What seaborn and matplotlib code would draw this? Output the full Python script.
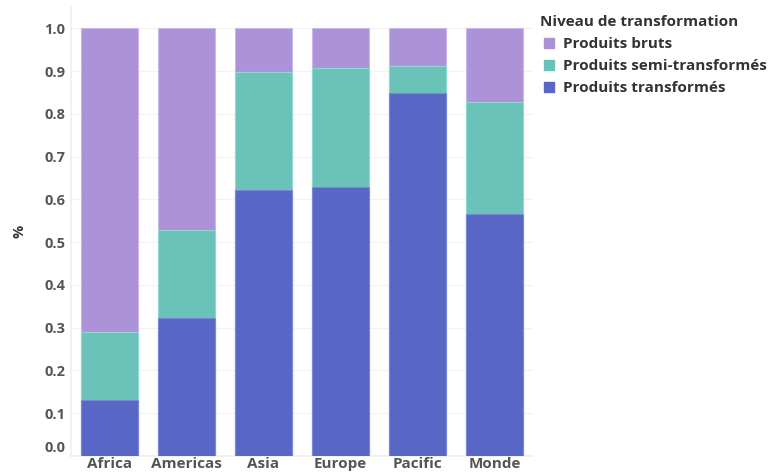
import matplotlib
matplotlib.use("Agg")
import matplotlib.pyplot as plt
import matplotlib.transforms as mtransforms
from matplotlib.lines import Line2D
import numpy as np
import pandas as pd
import seaborn as sns

categories = ["Africa", "Americas", "Asia", "Europe", "Pacific", "Monde"]
transformes = [0.132, 0.322, 0.621, 0.629, 0.849, 0.566]
semi_transformes = [0.157, 0.206, 0.277, 0.278, 0.064, 0.262]
bruts = [0.711, 0.472, 0.102, 0.093, 0.087, 0.172]
series_names = ["Produits bruts", "Produits semi-transformés", "Produits transformés"]
colors = {"Produits bruts": "#AC92D6",
          "Produits semi-transformés": "#6BC2B9",
          "Produits transformés": "#5867C5"}
edge_colors = {"Produits bruts": "#C9B8EC",
               "Produits semi-transformés": "#8ED8CF",
               "Produits transformés": "#7C89DA"}
yticks = [0.0, 0.1, 0.2, 0.3, 0.4, 0.5, 0.6, 0.7, 0.8, 0.9, 1.0]

sns.set_theme(style="white")
plt.rcParams['font.family'] = ['Open Sans', 'DejaVu Sans']

t = np.array(transformes)
s = np.array(semi_transformes)
b = np.array(bruts)
df = pd.DataFrame({
    "cat": categories,
    "Produits transformés": t,
    "Produits semi-transformés": t + s,
    "Produits bruts": t + s + b,
})

fig = plt.figure(figsize=(7.73, 4.76), dpi=100)
ax = fig.add_axes([71/773, 20/476, (533-71)/773, (456-7)/476])

for name in ["Produits bruts", "Produits semi-transformés", "Produits transformés"]:
    sns.barplot(data=df, x="cat", y=name, color=colors[name], ax=ax,
                width=0.75, saturation=1, edgecolor=edge_colors[name], linewidth=0.8,
                zorder=3)

ax.set_xlim(-0.5, 5.5)
ax.set_ylim(0, 1.05)
ax.set_yticks(yticks)
ax.set_yticklabels([f"{v:.1f}" for v in yticks])
ax.yaxis.grid(True, color="#F2F2F2", linewidth=0.8, zorder=0)
ax.set_axisbelow(True)
for sp in ["top", "right"]:
    ax.spines[sp].set_visible(False)
ax.spines["left"].set_color("#EFEFEF")
ax.spines["bottom"].set_color("#EFEFEF")
ax.tick_params(axis="y", length=0, pad=4, labelsize=10.5, labelcolor="#555555")
ax.tick_params(axis="x", length=0, pad=1, labelsize=11, labelcolor="#555555")
for lbl in ax.get_yticklabels() + ax.get_xticklabels():
    lbl.set_fontweight("bold")
ax.set_xlabel("")
ax.set_ylabel("%", fontsize=10.5, fontweight="bold", color="#333333", labelpad=13)

# shift the 0.0 label upward like the reference
lbl0 = ax.get_yticklabels()[0]
lbl0.set_transform(lbl0.get_transform() + mtransforms.ScaledTranslation(0, 10/100, fig.dpi_scale_trans))

handles = [Line2D([0], [0], marker="s", linestyle="", markersize=7,
                  markerfacecolor=colors[n], markeredgecolor=colors[n]) for n in series_names]
leg = fig.legend(handles, series_names, title="Niveau de transformation",
                 loc="upper left", bbox_to_anchor=(534/773, 1 - 9/476),
                 frameon=False, alignment="left", handletextpad=0.3,
                 handlelength=1.2, labelspacing=0.53, borderaxespad=0,
                 prop={"weight": "bold", "size": 11},
                 title_fontproperties={"weight": "bold", "size": 11})
for txt in leg.get_texts():
    txt.set_color("#333333")
leg.get_title().set_color("#333333")

fig.savefig("out.png", dpi=100)
